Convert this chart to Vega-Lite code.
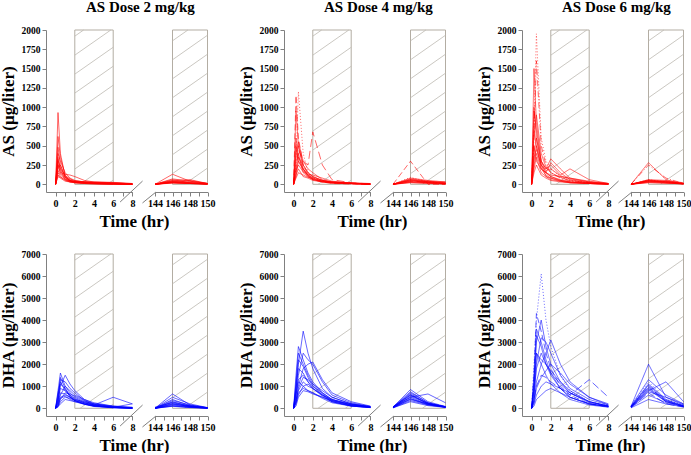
{
"$schema":"https://vega.github.io/schema/vega-lite/v6.json",
"padding":{"left":-1,"top":0,"right":0,"bottom":0},
"config":{"view":{"stroke":null},"font":"Liberation Serif","numberFormat":"d",
"axis":{"labelFont":"Liberation Serif","labelFontWeight":"bold","labelFontSize":10,"labelColor":"#000","titleFont":"Liberation Serif","titleFontWeight":"bold","titleFontSize":17,"titleColor":"#000","domainColor":"#808080","tickColor":"#808080","tickSize":4,"labelPadding":2,"grid":false,"labelFlush":false,"labelOverlap":false,"tickCount":20},
"axisY":{"labelFontSize":9.5,"titlePadding":4},
"title":{"font":"Liberation Serif","fontWeight":"bold","fontSize":15,"color":"#000"}},
"datasets":{
"rectL":[{"t":2,"t2":6,"f":0,"f2":1}],
"rectR":[{"t":146,"t2":150,"f":0,"f2":1}],
"hatchL":[{"t":2,"f":0.96,"t2":2.92,"f2":1},{"t":2,"f":0.837,"t2":5.75,"f2":1},{"t":2,"f":0.714,"t2":6,"f2":0.888},{"t":2,"f":0.591,"t2":6,"f2":0.765},{"t":2,"f":0.468,"t2":6,"f2":0.642},{"t":2,"f":0.345,"t2":6,"f2":0.519},{"t":2,"f":0.222,"t2":6,"f2":0.396},{"t":2,"f":0.099,"t2":6,"f2":0.273},{"t":2.55,"f":0,"t2":6,"f2":0.15},{"t":5.38,"f":0,"t2":6,"f2":0.027}],
"hatchR":[{"t":146,"f":0.93,"t2":147.76,"f2":1},{"t":146,"f":0.807,"t2":150,"f2":0.966},{"t":146,"f":0.684,"t2":150,"f2":0.843},{"t":146,"f":0.561,"t2":150,"f2":0.72},{"t":146,"f":0.438,"t2":150,"f2":0.597},{"t":146,"f":0.315,"t2":150,"f2":0.474},{"t":146,"f":0.192,"t2":150,"f2":0.351},{"t":146,"f":0.069,"t2":150,"f2":0.228},{"t":147.36,"f":0,"t2":150,"f2":0.105}],
"brkL":[{"t":6.72,"t2":9.06,"f":-0.115,"f2":0.021}],
"brkR":[{"t":142.57,"t2":144.11,"f":-0.121,"f2":-0.05}],
"sp":[{"k":0}],
"AS2":[
{"s":1,"t":0,"v":0},{"s":1,"t":0.25,"v":930},{"s":1,"t":0.5,"v":400},{"s":1,"t":1,"v":100},{"s":1,"t":1.5,"v":50},{"s":1,"t":2,"v":30},{"s":1,"t":3,"v":15},{"s":1,"t":4,"v":10},{"s":1,"t":6,"v":5},{"s":1,"t":8,"v":0},{"s":1,"t":144,"v":0},{"s":1,"t":146,"v":30},{"s":1,"t":148,"v":15},{"s":1,"t":150,"v":5},
{"s":2,"t":0,"v":0},{"s":2,"t":0.25,"v":620},{"s":2,"t":0.5,"v":350},{"s":2,"t":1,"v":120},{"s":2,"t":1.5,"v":60},{"s":2,"t":2,"v":40},{"s":2,"t":3,"v":20},{"s":2,"t":4,"v":10},{"s":2,"t":6,"v":5},{"s":2,"t":8,"v":0},{"s":2,"t":144,"v":0},{"s":2,"t":146,"v":60},{"s":2,"t":148,"v":20},{"s":2,"t":150,"v":5},
{"s":3,"t":0,"v":0},{"s":3,"t":0.25,"v":480},{"s":3,"t":0.5,"v":250},{"s":3,"t":1,"v":90},{"s":3,"t":1.5,"v":45},{"s":3,"t":2,"v":25},{"s":3,"t":3,"v":15},{"s":3,"t":4,"v":10},{"s":3,"t":6,"v":5},{"s":3,"t":8,"v":0},{"s":3,"t":144,"v":0},{"s":3,"t":146,"v":25},{"s":3,"t":148,"v":10},{"s":3,"t":150,"v":5},
{"s":4,"t":0,"v":0},{"s":4,"t":0.25,"v":400},{"s":4,"t":0.5,"v":300},{"s":4,"t":1,"v":150},{"s":4,"t":1.5,"v":80},{"s":4,"t":2,"v":50},{"s":4,"t":3,"v":30},{"s":4,"t":4,"v":20},{"s":4,"t":6,"v":10},{"s":4,"t":8,"v":0},{"s":4,"t":144,"v":0},{"s":4,"t":146,"v":130},{"s":4,"t":148,"v":40},{"s":4,"t":150,"v":10},
{"s":5,"t":0,"v":0},{"s":5,"t":0.25,"v":350},{"s":5,"t":0.5,"v":200},{"s":5,"t":1,"v":80},{"s":5,"t":1.5,"v":40},{"s":5,"t":2,"v":30},{"s":5,"t":3,"v":20},{"s":5,"t":4,"v":15},{"s":5,"t":6,"v":10},{"s":5,"t":8,"v":5},{"s":5,"t":144,"v":0},{"s":5,"t":146,"v":50},{"s":5,"t":148,"v":60},{"s":5,"t":150,"v":10},
{"s":6,"t":0,"v":0},{"s":6,"t":0.25,"v":300},{"s":6,"t":0.5,"v":180},{"s":6,"t":1,"v":60},{"s":6,"t":1.5,"v":30},{"s":6,"t":2,"v":20},{"s":6,"t":3,"v":10},{"s":6,"t":4,"v":5},{"s":6,"t":6,"v":0},{"s":6,"t":8,"v":0},{"s":6,"t":144,"v":0},{"s":6,"t":146,"v":40},{"s":6,"t":148,"v":20},{"s":6,"t":150,"v":0},
{"s":7,"t":0,"v":0},{"s":7,"t":0.25,"v":250},{"s":7,"t":0.5,"v":150},{"s":7,"t":1,"v":130},{"s":7,"t":1.5,"v":120},{"s":7,"t":2,"v":100},{"s":7,"t":3,"v":50},{"s":7,"t":4,"v":30},{"s":7,"t":6,"v":20},{"s":7,"t":8,"v":5},{"s":7,"t":144,"v":0},{"s":7,"t":146,"v":20},{"s":7,"t":148,"v":10},{"s":7,"t":150,"v":5},
{"s":8,"t":0,"v":0},{"s":8,"t":0.25,"v":200},{"s":8,"t":0.5,"v":250},{"s":8,"t":1,"v":100},{"s":8,"t":1.5,"v":50},{"s":8,"t":2,"v":30},{"s":8,"t":3,"v":20},{"s":8,"t":4,"v":20},{"s":8,"t":6,"v":10},{"s":8,"t":8,"v":0},{"s":8,"t":144,"v":0},{"s":8,"t":146,"v":35},{"s":8,"t":148,"v":50},{"s":8,"t":150,"v":10},
{"s":9,"t":0,"v":0},{"s":9,"t":0.25,"v":180},{"s":9,"t":0.5,"v":120},{"s":9,"t":1,"v":70},{"s":9,"t":1.5,"v":40},{"s":9,"t":2,"v":30},{"s":9,"t":3,"v":25},{"s":9,"t":4,"v":20},{"s":9,"t":6,"v":15},{"s":9,"t":8,"v":10},{"s":9,"t":144,"v":0},{"s":9,"t":146,"v":15},{"s":9,"t":148,"v":10},{"s":9,"t":150,"v":5},
{"s":10,"t":0,"v":0},{"s":10,"t":0.25,"v":150},{"s":10,"t":0.5,"v":100},{"s":10,"t":1,"v":50},{"s":10,"t":1.5,"v":30},{"s":10,"t":2,"v":20},{"s":10,"t":3,"v":15},{"s":10,"t":4,"v":10},{"s":10,"t":6,"v":5},{"s":10,"t":8,"v":0},{"s":10,"t":144,"v":0},{"s":10,"t":146,"v":25},{"s":10,"t":148,"v":15},{"s":10,"t":150,"v":5},
{"s":11,"t":0,"v":0},{"s":11,"t":0.25,"v":120},{"s":11,"t":0.5,"v":90},{"s":11,"t":1,"v":60},{"s":11,"t":1.5,"v":40},{"s":11,"t":2,"v":35},{"s":11,"t":3,"v":30},{"s":11,"t":4,"v":25},{"s":11,"t":6,"v":20},{"s":11,"t":8,"v":5},{"s":11,"t":144,"v":0},{"s":11,"t":146,"v":45},{"s":11,"t":148,"v":30},{"s":11,"t":150,"v":10},
{"s":12,"t":0,"v":0},{"s":12,"t":0.25,"v":100},{"s":12,"t":0.5,"v":80},{"s":12,"t":1,"v":40},{"s":12,"t":1.5,"v":30},{"s":12,"t":2,"v":20},{"s":12,"t":3,"v":10},{"s":12,"t":4,"v":5},{"s":12,"t":6,"v":0},{"s":12,"t":8,"v":0},{"s":12,"t":144,"v":0},{"s":12,"t":146,"v":20},{"s":12,"t":148,"v":10},{"s":12,"t":150,"v":0},
{"s":13,"t":0,"v":0},{"s":13,"t":0.25,"v":260},{"s":13,"t":0.5,"v":140},{"s":13,"t":1,"v":90},{"s":13,"t":1.5,"v":50},{"s":13,"t":2,"v":40},{"s":13,"t":3,"v":35},{"s":13,"t":4,"v":30},{"s":13,"t":6,"v":25},{"s":13,"t":8,"v":10},{"s":13,"t":144,"v":0},{"s":13,"t":146,"v":70},{"s":13,"t":148,"v":40},{"s":13,"t":150,"v":10},
{"s":14,"t":0,"v":0},{"s":14,"t":0.25,"v":320},{"s":14,"t":0.5,"v":210},{"s":14,"t":1,"v":110},{"s":14,"t":1.5,"v":70},{"s":14,"t":2,"v":45},{"s":14,"t":3,"v":30},{"s":14,"t":4,"v":20},{"s":14,"t":6,"v":10},{"s":14,"t":8,"v":0},{"s":14,"t":144,"v":0},{"s":14,"t":146,"v":30},{"s":14,"t":148,"v":20},{"s":14,"t":150,"v":5}
],
"AS4":[
{"s":1,"t":0,"v":0},{"s":1,"t":0.25,"v":950},{"s":1,"t":0.5,"v":500},{"s":1,"t":1,"v":200},{"s":1,"t":1.5,"v":100},{"s":1,"t":2,"v":60},{"s":1,"t":3,"v":30},{"s":1,"t":4,"v":15},{"s":1,"t":6,"v":5},{"s":1,"t":8,"v":0},{"s":1,"t":144,"v":0},{"s":1,"t":146,"v":50},{"s":1,"t":148,"v":20},{"s":1,"t":150,"v":5},
{"s":2,"t":0,"v":0},{"s":2,"t":0.25,"v":1150},{"s":2,"t":0.5,"v":600},{"s":2,"t":1,"v":250},{"s":2,"t":1.5,"v":120},{"s":2,"t":2,"v":70},{"s":2,"t":3,"v":30},{"s":2,"t":4,"v":10},{"s":2,"t":6,"v":5},{"s":2,"t":8,"v":0},{"s":2,"t":144,"v":0},{"s":2,"t":146,"v":300},{"s":2,"t":148,"v":0},{"s":2,"t":150,"v":0},
{"s":3,"t":0,"v":0},{"s":3,"t":0.25,"v":300},{"s":3,"t":0.5,"v":1200},{"s":3,"t":1,"v":400},{"s":3,"t":1.5,"v":150},{"s":3,"t":2,"v":80},{"s":3,"t":3,"v":40},{"s":3,"t":4,"v":20},{"s":3,"t":6,"v":10},{"s":3,"t":8,"v":0},{"s":3,"t":144,"v":0},{"s":3,"t":146,"v":90},{"s":3,"t":148,"v":30},{"s":3,"t":150,"v":10},
{"s":4,"t":0,"v":0},{"s":4,"t":0.25,"v":400},{"s":4,"t":0.5,"v":550},{"s":4,"t":1,"v":300},{"s":4,"t":1.5,"v":200},{"s":4,"t":2,"v":150},{"s":4,"t":3,"v":60},{"s":4,"t":4,"v":30},{"s":4,"t":6,"v":10},{"s":4,"t":8,"v":0},{"s":4,"t":144,"v":0},{"s":4,"t":146,"v":70},{"s":4,"t":148,"v":40},{"s":4,"t":150,"v":10},
{"s":5,"t":0,"v":0},{"s":5,"t":0.25,"v":350},{"s":5,"t":0.5,"v":500},{"s":5,"t":1,"v":250},{"s":5,"t":1.5,"v":150},{"s":5,"t":2,"v":100},{"s":5,"t":3,"v":50},{"s":5,"t":4,"v":25},{"s":5,"t":6,"v":10},{"s":5,"t":8,"v":5},{"s":5,"t":144,"v":0},{"s":5,"t":146,"v":60},{"s":5,"t":148,"v":30},{"s":5,"t":150,"v":30},
{"s":6,"t":0,"v":0},{"s":6,"t":0.25,"v":200},{"s":6,"t":0.5,"v":450},{"s":6,"t":1,"v":300},{"s":6,"t":1.5,"v":250},{"s":6,"t":2,"v":680},{"s":6,"t":3,"v":250},{"s":6,"t":4,"v":60},{"s":6,"t":6,"v":20},{"s":6,"t":8,"v":5},{"s":6,"t":144,"v":0},{"s":6,"t":146,"v":40},{"s":6,"t":148,"v":20},{"s":6,"t":150,"v":5},
{"s":7,"t":0,"v":0},{"s":7,"t":0.25,"v":150},{"s":7,"t":0.5,"v":350},{"s":7,"t":1,"v":250},{"s":7,"t":1.5,"v":150},{"s":7,"t":2,"v":100},{"s":7,"t":3,"v":50},{"s":7,"t":4,"v":30},{"s":7,"t":6,"v":15},{"s":7,"t":8,"v":5},{"s":7,"t":144,"v":0},{"s":7,"t":146,"v":80},{"s":7,"t":148,"v":50},{"s":7,"t":150,"v":30},
{"s":8,"t":0,"v":0},{"s":8,"t":0.25,"v":100},{"s":8,"t":0.5,"v":300},{"s":8,"t":1,"v":200},{"s":8,"t":1.5,"v":120},{"s":8,"t":2,"v":80},{"s":8,"t":3,"v":40},{"s":8,"t":4,"v":20},{"s":8,"t":6,"v":10},{"s":8,"t":8,"v":0},{"s":8,"t":144,"v":0},{"s":8,"t":146,"v":30},{"s":8,"t":148,"v":20},{"s":8,"t":150,"v":10},
{"s":9,"t":0,"v":0},{"s":9,"t":0.25,"v":250},{"s":9,"t":0.5,"v":400},{"s":9,"t":1,"v":150},{"s":9,"t":1.5,"v":100},{"s":9,"t":2,"v":60},{"s":9,"t":3,"v":30},{"s":9,"t":4,"v":20},{"s":9,"t":6,"v":10},{"s":9,"t":8,"v":5},{"s":9,"t":144,"v":0},{"s":9,"t":146,"v":45},{"s":9,"t":148,"v":25},{"s":9,"t":150,"v":10},
{"s":10,"t":0,"v":0},{"s":10,"t":0.25,"v":500},{"s":10,"t":0.5,"v":300},{"s":10,"t":1,"v":180},{"s":10,"t":1.5,"v":110},{"s":10,"t":2,"v":70},{"s":10,"t":3,"v":40},{"s":10,"t":4,"v":20},{"s":10,"t":6,"v":10},{"s":10,"t":8,"v":0},{"s":10,"t":144,"v":0},{"s":10,"t":146,"v":60},{"s":10,"t":148,"v":40},{"s":10,"t":150,"v":25},
{"s":11,"t":0,"v":0},{"s":11,"t":0.25,"v":180},{"s":11,"t":0.5,"v":250},{"s":11,"t":1,"v":160},{"s":11,"t":1.5,"v":130},{"s":11,"t":2,"v":120},{"s":11,"t":3,"v":80},{"s":11,"t":4,"v":40},{"s":11,"t":6,"v":15},{"s":11,"t":8,"v":5},{"s":11,"t":144,"v":0},{"s":11,"t":146,"v":35},{"s":11,"t":148,"v":30},{"s":11,"t":150,"v":20},
{"s":12,"t":0,"v":0},{"s":12,"t":0.25,"v":120},{"s":12,"t":0.5,"v":200},{"s":12,"t":1,"v":100},{"s":12,"t":1.5,"v":80},{"s":12,"t":2,"v":50},{"s":12,"t":3,"v":30},{"s":12,"t":4,"v":20},{"s":12,"t":6,"v":10},{"s":12,"t":8,"v":0},{"s":12,"t":144,"v":0},{"s":12,"t":146,"v":25},{"s":12,"t":148,"v":15},{"s":12,"t":150,"v":5},
{"s":13,"t":0,"v":0},{"s":13,"t":0.25,"v":600},{"s":13,"t":0.5,"v":350},{"s":13,"t":1,"v":200},{"s":13,"t":1.5,"v":120},{"s":13,"t":2,"v":90},{"s":13,"t":3,"v":50},{"s":13,"t":4,"v":30},{"s":13,"t":6,"v":15},{"s":13,"t":8,"v":5},{"s":13,"t":144,"v":0},{"s":13,"t":146,"v":55},{"s":13,"t":148,"v":30},{"s":13,"t":150,"v":15},
{"s":14,"t":0,"v":0},{"s":14,"t":0.25,"v":80},{"s":14,"t":0.5,"v":150},{"s":14,"t":1,"v":120},{"s":14,"t":1.5,"v":90},{"s":14,"t":2,"v":70},{"s":14,"t":3,"v":40},{"s":14,"t":4,"v":30},{"s":14,"t":6,"v":20},{"s":14,"t":8,"v":10},{"s":14,"t":144,"v":0},{"s":14,"t":146,"v":20},{"s":14,"t":148,"v":10},{"s":14,"t":150,"v":5}
],
"AS6":[
{"s":1,"t":0,"v":0},{"s":1,"t":0.25,"v":1500},{"s":1,"t":0.5,"v":800},{"s":1,"t":1,"v":300},{"s":1,"t":1.5,"v":150},{"s":1,"t":2,"v":100},{"s":1,"t":3,"v":50},{"s":1,"t":4,"v":30},{"s":1,"t":6,"v":10},{"s":1,"t":8,"v":0},{"s":1,"t":144,"v":0},{"s":1,"t":146,"v":280},{"s":1,"t":148,"v":60},{"s":1,"t":150,"v":0},
{"s":2,"t":0,"v":0},{"s":2,"t":0.25,"v":600},{"s":2,"t":0.5,"v":1600},{"s":2,"t":1,"v":500},{"s":2,"t":1.5,"v":250},{"s":2,"t":2,"v":150},{"s":2,"t":3,"v":80},{"s":2,"t":4,"v":40},{"s":2,"t":6,"v":20},{"s":2,"t":8,"v":5},{"s":2,"t":144,"v":0},{"s":2,"t":146,"v":250},{"s":2,"t":148,"v":80},{"s":2,"t":150,"v":10},
{"s":3,"t":0,"v":0},{"s":3,"t":0.25,"v":800},{"s":3,"t":0.5,"v":1950},{"s":3,"t":1,"v":600},{"s":3,"t":1.5,"v":300},{"s":3,"t":2,"v":200},{"s":3,"t":3,"v":100},{"s":3,"t":4,"v":50},{"s":3,"t":6,"v":20},{"s":3,"t":8,"v":5},{"s":3,"t":144,"v":0},{"s":3,"t":146,"v":60},{"s":3,"t":148,"v":30},{"s":3,"t":150,"v":10},
{"s":4,"t":0,"v":0},{"s":4,"t":0.25,"v":950},{"s":4,"t":0.5,"v":700},{"s":4,"t":1,"v":300},{"s":4,"t":1.5,"v":200},{"s":4,"t":2,"v":330},{"s":4,"t":3,"v":200},{"s":4,"t":4,"v":80},{"s":4,"t":6,"v":30},{"s":4,"t":8,"v":10},{"s":4,"t":144,"v":0},{"s":4,"t":146,"v":50},{"s":4,"t":148,"v":40},{"s":4,"t":150,"v":10},
{"s":5,"t":0,"v":0},{"s":5,"t":0.25,"v":700},{"s":5,"t":0.5,"v":500},{"s":5,"t":1,"v":250},{"s":5,"t":1.5,"v":150},{"s":5,"t":2,"v":280},{"s":5,"t":3,"v":150},{"s":5,"t":4,"v":60},{"s":5,"t":6,"v":20},{"s":5,"t":8,"v":5},{"s":5,"t":144,"v":0},{"s":5,"t":146,"v":40},{"s":5,"t":148,"v":30},{"s":5,"t":150,"v":10},
{"s":6,"t":0,"v":0},{"s":6,"t":0.25,"v":400},{"s":6,"t":0.5,"v":600},{"s":6,"t":1,"v":300},{"s":6,"t":1.5,"v":200},{"s":6,"t":2,"v":250},{"s":6,"t":3,"v":120},{"s":6,"t":4,"v":200},{"s":6,"t":6,"v":60},{"s":6,"t":8,"v":10},{"s":6,"t":144,"v":0},{"s":6,"t":146,"v":30},{"s":6,"t":148,"v":20},{"s":6,"t":150,"v":5},
{"s":7,"t":0,"v":0},{"s":7,"t":0.25,"v":300},{"s":7,"t":0.5,"v":500},{"s":7,"t":1,"v":200},{"s":7,"t":1.5,"v":150},{"s":7,"t":2,"v":100},{"s":7,"t":3,"v":60},{"s":7,"t":4,"v":30},{"s":7,"t":6,"v":20},{"s":7,"t":8,"v":5},{"s":7,"t":144,"v":0},{"s":7,"t":146,"v":60},{"s":7,"t":148,"v":50},{"s":7,"t":150,"v":20},
{"s":8,"t":0,"v":0},{"s":8,"t":0.25,"v":250},{"s":8,"t":0.5,"v":400},{"s":8,"t":1,"v":200},{"s":8,"t":1.5,"v":120},{"s":8,"t":2,"v":80},{"s":8,"t":3,"v":50},{"s":8,"t":4,"v":30},{"s":8,"t":6,"v":10},{"s":8,"t":8,"v":0},{"s":8,"t":144,"v":0},{"s":8,"t":146,"v":45},{"s":8,"t":148,"v":30},{"s":8,"t":150,"v":10},
{"s":9,"t":0,"v":0},{"s":9,"t":0.25,"v":1000},{"s":9,"t":0.5,"v":600},{"s":9,"t":1,"v":250},{"s":9,"t":1.5,"v":100},{"s":9,"t":2,"v":80},{"s":9,"t":3,"v":40},{"s":9,"t":4,"v":20},{"s":9,"t":6,"v":10},{"s":9,"t":8,"v":0},{"s":9,"t":144,"v":0},{"s":9,"t":146,"v":35},{"s":9,"t":148,"v":40},{"s":9,"t":150,"v":10},
{"s":10,"t":0,"v":0},{"s":10,"t":0.25,"v":200},{"s":10,"t":0.5,"v":350},{"s":10,"t":1,"v":150},{"s":10,"t":1.5,"v":100},{"s":10,"t":2,"v":60},{"s":10,"t":3,"v":40},{"s":10,"t":4,"v":20},{"s":10,"t":6,"v":10},{"s":10,"t":8,"v":5},{"s":10,"t":144,"v":0},{"s":10,"t":146,"v":25},{"s":10,"t":148,"v":15},{"s":10,"t":150,"v":5},
{"s":11,"t":0,"v":0},{"s":11,"t":0.25,"v":500},{"s":11,"t":0.5,"v":300},{"s":11,"t":1,"v":200},{"s":11,"t":1.5,"v":150},{"s":11,"t":2,"v":120},{"s":11,"t":3,"v":100},{"s":11,"t":4,"v":80},{"s":11,"t":6,"v":40},{"s":11,"t":8,"v":10},{"s":11,"t":144,"v":0},{"s":11,"t":146,"v":50},{"s":11,"t":148,"v":25},{"s":11,"t":150,"v":5},
{"s":12,"t":0,"v":0},{"s":12,"t":0.25,"v":150},{"s":12,"t":0.5,"v":250},{"s":12,"t":1,"v":120},{"s":12,"t":1.5,"v":80},{"s":12,"t":2,"v":50},{"s":12,"t":3,"v":30},{"s":12,"t":4,"v":20},{"s":12,"t":6,"v":10},{"s":12,"t":8,"v":0},{"s":12,"t":144,"v":0},{"s":12,"t":146,"v":20},{"s":12,"t":148,"v":15},{"s":12,"t":150,"v":5},
{"s":13,"t":0,"v":0},{"s":13,"t":0.25,"v":650},{"s":13,"t":0.5,"v":900},{"s":13,"t":1,"v":400},{"s":13,"t":1.5,"v":220},{"s":13,"t":2,"v":150},{"s":13,"t":3,"v":90},{"s":13,"t":4,"v":50},{"s":13,"t":6,"v":20},{"s":13,"t":8,"v":5},{"s":13,"t":144,"v":0},{"s":13,"t":146,"v":55},{"s":13,"t":148,"v":35},{"s":13,"t":150,"v":10},
{"s":14,"t":0,"v":0},{"s":14,"t":0.25,"v":350},{"s":14,"t":0.5,"v":450},{"s":14,"t":1,"v":250},{"s":14,"t":1.5,"v":180},{"s":14,"t":2,"v":200},{"s":14,"t":3,"v":110},{"s":14,"t":4,"v":70},{"s":14,"t":6,"v":30},{"s":14,"t":8,"v":10},{"s":14,"t":144,"v":0},{"s":14,"t":146,"v":40},{"s":14,"t":148,"v":20},{"s":14,"t":150,"v":10}
],
"DHA2":[
{"s":1,"t":0,"v":0},{"s":1,"t":0.25,"v":800},{"s":1,"t":0.5,"v":1600},{"s":1,"t":1,"v":1000},{"s":1,"t":1.5,"v":700},{"s":1,"t":2,"v":500},{"s":1,"t":3,"v":300},{"s":1,"t":4,"v":150},{"s":1,"t":6,"v":50},{"s":1,"t":8,"v":20},{"s":1,"t":144,"v":0},{"s":1,"t":146,"v":650},{"s":1,"t":148,"v":150},{"s":1,"t":150,"v":20},
{"s":2,"t":0,"v":0},{"s":2,"t":0.25,"v":300},{"s":2,"t":0.5,"v":1000},{"s":2,"t":1,"v":1500},{"s":2,"t":1.5,"v":1100},{"s":2,"t":2,"v":800},{"s":2,"t":3,"v":400},{"s":2,"t":4,"v":200},{"s":2,"t":6,"v":60},{"s":2,"t":8,"v":10},{"s":2,"t":144,"v":0},{"s":2,"t":146,"v":400},{"s":2,"t":148,"v":120},{"s":2,"t":150,"v":20},
{"s":3,"t":0,"v":0},{"s":3,"t":0.25,"v":500},{"s":3,"t":0.5,"v":1300},{"s":3,"t":1,"v":1200},{"s":3,"t":1.5,"v":900},{"s":3,"t":2,"v":700},{"s":3,"t":3,"v":350},{"s":3,"t":4,"v":150},{"s":3,"t":6,"v":40},{"s":3,"t":8,"v":10},{"s":3,"t":144,"v":0},{"s":3,"t":146,"v":300},{"s":3,"t":148,"v":100},{"s":3,"t":150,"v":10},
{"s":4,"t":0,"v":0},{"s":4,"t":0.25,"v":200},{"s":4,"t":0.5,"v":600},{"s":4,"t":1,"v":1000},{"s":4,"t":1.5,"v":800},{"s":4,"t":2,"v":600},{"s":4,"t":3,"v":400},{"s":4,"t":4,"v":250},{"s":4,"t":6,"v":100},{"s":4,"t":8,"v":30},{"s":4,"t":144,"v":0},{"s":4,"t":146,"v":350},{"s":4,"t":148,"v":150},{"s":4,"t":150,"v":30},
{"s":5,"t":0,"v":0},{"s":5,"t":0.25,"v":400},{"s":5,"t":0.5,"v":900},{"s":5,"t":1,"v":800},{"s":5,"t":1.5,"v":600},{"s":5,"t":2,"v":400},{"s":5,"t":3,"v":250},{"s":5,"t":4,"v":150},{"s":5,"t":6,"v":500},{"s":5,"t":8,"v":200},{"s":5,"t":144,"v":50},{"s":5,"t":146,"v":250},{"s":5,"t":148,"v":100},{"s":5,"t":150,"v":20},
{"s":6,"t":0,"v":0},{"s":6,"t":0.25,"v":100},{"s":6,"t":0.5,"v":400},{"s":6,"t":1,"v":700},{"s":6,"t":1.5,"v":650},{"s":6,"t":2,"v":550},{"s":6,"t":3,"v":350},{"s":6,"t":4,"v":200},{"s":6,"t":6,"v":80},{"s":6,"t":8,"v":20},{"s":6,"t":144,"v":0},{"s":6,"t":146,"v":200},{"s":6,"t":148,"v":80},{"s":6,"t":150,"v":10},
{"s":7,"t":0,"v":0},{"s":7,"t":0.25,"v":600},{"s":7,"t":0.5,"v":1100},{"s":7,"t":1,"v":900},{"s":7,"t":1.5,"v":500},{"s":7,"t":2,"v":350},{"s":7,"t":3,"v":200},{"s":7,"t":4,"v":100},{"s":7,"t":6,"v":30},{"s":7,"t":8,"v":0},{"s":7,"t":144,"v":0},{"s":7,"t":146,"v":150},{"s":7,"t":148,"v":60},{"s":7,"t":150,"v":10},
{"s":8,"t":0,"v":0},{"s":8,"t":0.25,"v":150},{"s":8,"t":0.5,"v":500},{"s":8,"t":1,"v":600},{"s":8,"t":1.5,"v":500},{"s":8,"t":2,"v":400},{"s":8,"t":3,"v":300},{"s":8,"t":4,"v":200},{"s":8,"t":6,"v":100},{"s":8,"t":8,"v":50},{"s":8,"t":144,"v":0},{"s":8,"t":146,"v":180},{"s":8,"t":148,"v":90},{"s":8,"t":150,"v":30},
{"s":9,"t":0,"v":0},{"s":9,"t":0.25,"v":50},{"s":9,"t":0.5,"v":300},{"s":9,"t":1,"v":500},{"s":9,"t":1.5,"v":450},{"s":9,"t":2,"v":350},{"s":9,"t":3,"v":250},{"s":9,"t":4,"v":150},{"s":9,"t":6,"v":60},{"s":9,"t":8,"v":20},{"s":9,"t":144,"v":0},{"s":9,"t":146,"v":120},{"s":9,"t":148,"v":50},{"s":9,"t":150,"v":10},
{"s":10,"t":0,"v":0},{"s":10,"t":0.25,"v":250},{"s":10,"t":0.5,"v":700},{"s":10,"t":1,"v":650},{"s":10,"t":1.5,"v":500},{"s":10,"t":2,"v":350},{"s":10,"t":3,"v":200},{"s":10,"t":4,"v":100},{"s":10,"t":6,"v":40},{"s":10,"t":8,"v":10},{"s":10,"t":144,"v":0},{"s":10,"t":146,"v":220},{"s":10,"t":148,"v":70},{"s":10,"t":150,"v":0},
{"s":11,"t":0,"v":0},{"s":11,"t":0.25,"v":80},{"s":11,"t":0.5,"v":200},{"s":11,"t":1,"v":400},{"s":11,"t":1.5,"v":350},{"s":11,"t":2,"v":300},{"s":11,"t":3,"v":200},{"s":11,"t":4,"v":120},{"s":11,"t":6,"v":50},{"s":11,"t":8,"v":200},{"s":11,"t":144,"v":0},{"s":11,"t":146,"v":100},{"s":11,"t":148,"v":40},{"s":11,"t":150,"v":10},
{"s":12,"t":0,"v":0},{"s":12,"t":0.25,"v":350},{"s":12,"t":0.5,"v":1400},{"s":12,"t":1,"v":900},{"s":12,"t":1.5,"v":600},{"s":12,"t":2,"v":450},{"s":12,"t":3,"v":250},{"s":12,"t":4,"v":120},{"s":12,"t":6,"v":40},{"s":12,"t":8,"v":10},{"s":12,"t":144,"v":0},{"s":12,"t":146,"v":500},{"s":12,"t":148,"v":200},{"s":12,"t":150,"v":30},
{"s":13,"t":0,"v":0},{"s":13,"t":0.25,"v":120},{"s":13,"t":0.5,"v":450},{"s":13,"t":1,"v":550},{"s":13,"t":1.5,"v":400},{"s":13,"t":2,"v":300},{"s":13,"t":3,"v":180},{"s":13,"t":4,"v":100},{"s":13,"t":6,"v":30},{"s":13,"t":8,"v":0},{"s":13,"t":144,"v":0},{"s":13,"t":146,"v":90},{"s":13,"t":148,"v":30},{"s":13,"t":150,"v":0},
{"s":14,"t":0,"v":0},{"s":14,"t":0.25,"v":700},{"s":14,"t":0.5,"v":1200},{"s":14,"t":1,"v":800},{"s":14,"t":1.5,"v":550},{"s":14,"t":2,"v":350},{"s":14,"t":3,"v":180},{"s":14,"t":4,"v":80},{"s":14,"t":6,"v":20},{"s":14,"t":8,"v":0},{"s":14,"t":144,"v":0},{"s":14,"t":146,"v":280},{"s":14,"t":148,"v":100},{"s":14,"t":150,"v":20}
],
"DHA4":[
{"s":1,"t":0,"v":0},{"s":1,"t":0.25,"v":800},{"s":1,"t":0.5,"v":2000},{"s":1,"t":1,"v":3500},{"s":1,"t":1.5,"v":2500},{"s":1,"t":2,"v":1800},{"s":1,"t":3,"v":900},{"s":1,"t":4,"v":500},{"s":1,"t":6,"v":200},{"s":1,"t":8,"v":50},{"s":1,"t":144,"v":50},{"s":1,"t":146,"v":850},{"s":1,"t":148,"v":300},{"s":1,"t":150,"v":80},
{"s":2,"t":0,"v":0},{"s":2,"t":0.25,"v":1500},{"s":2,"t":0.5,"v":2800},{"s":2,"t":1,"v":2200},{"s":2,"t":1.5,"v":1600},{"s":2,"t":2,"v":1200},{"s":2,"t":3,"v":700},{"s":2,"t":4,"v":400},{"s":2,"t":6,"v":150},{"s":2,"t":8,"v":50},{"s":2,"t":144,"v":30},{"s":2,"t":146,"v":700},{"s":2,"t":148,"v":250},{"s":2,"t":150,"v":60},
{"s":3,"t":0,"v":0},{"s":3,"t":0.25,"v":500},{"s":3,"t":0.5,"v":1500},{"s":3,"t":1,"v":2500},{"s":3,"t":1.5,"v":2200},{"s":3,"t":2,"v":2000},{"s":3,"t":3,"v":1200},{"s":3,"t":4,"v":600},{"s":3,"t":6,"v":250},{"s":3,"t":8,"v":80},{"s":3,"t":144,"v":50},{"s":3,"t":146,"v":600},{"s":3,"t":148,"v":200},{"s":3,"t":150,"v":50},
{"s":4,"t":0,"v":0},{"s":4,"t":0.25,"v":300},{"s":4,"t":0.5,"v":1000},{"s":4,"t":1,"v":1800},{"s":4,"t":1.5,"v":2000},{"s":4,"t":2,"v":2100},{"s":4,"t":3,"v":1300},{"s":4,"t":4,"v":700},{"s":4,"t":6,"v":300},{"s":4,"t":8,"v":100},{"s":4,"t":144,"v":60},{"s":4,"t":146,"v":500},{"s":4,"t":148,"v":650},{"s":4,"t":150,"v":250},
{"s":5,"t":0,"v":0},{"s":5,"t":0.25,"v":700},{"s":5,"t":0.5,"v":1300},{"s":5,"t":1,"v":1500},{"s":5,"t":1.5,"v":1200},{"s":5,"t":2,"v":1000},{"s":5,"t":3,"v":700},{"s":5,"t":4,"v":400},{"s":5,"t":6,"v":150},{"s":5,"t":8,"v":50},{"s":5,"t":144,"v":40},{"s":5,"t":146,"v":450},{"s":5,"t":148,"v":150},{"s":5,"t":150,"v":40},
{"s":6,"t":0,"v":0},{"s":6,"t":0.25,"v":1000},{"s":6,"t":0.5,"v":2200},{"s":6,"t":1,"v":1900},{"s":6,"t":1.5,"v":1400},{"s":6,"t":2,"v":1000},{"s":6,"t":3,"v":600},{"s":6,"t":4,"v":300},{"s":6,"t":6,"v":100},{"s":6,"t":8,"v":30},{"s":6,"t":144,"v":50},{"s":6,"t":146,"v":650},{"s":6,"t":148,"v":200},{"s":6,"t":150,"v":50},
{"s":7,"t":0,"v":0},{"s":7,"t":0.25,"v":400},{"s":7,"t":0.5,"v":800},{"s":7,"t":1,"v":1200},{"s":7,"t":1.5,"v":1000},{"s":7,"t":2,"v":900},{"s":7,"t":3,"v":600},{"s":7,"t":4,"v":350},{"s":7,"t":6,"v":150},{"s":7,"t":8,"v":60},{"s":7,"t":144,"v":30},{"s":7,"t":146,"v":400},{"s":7,"t":148,"v":180},{"s":7,"t":150,"v":60},
{"s":8,"t":0,"v":0},{"s":8,"t":0.25,"v":200},{"s":8,"t":0.5,"v":600},{"s":8,"t":1,"v":1000},{"s":8,"t":1.5,"v":1100},{"s":8,"t":2,"v":900},{"s":8,"t":3,"v":600},{"s":8,"t":4,"v":400},{"s":8,"t":6,"v":200},{"s":8,"t":8,"v":80},{"s":8,"t":144,"v":20},{"s":8,"t":146,"v":350},{"s":8,"t":148,"v":150},{"s":8,"t":150,"v":50},
{"s":9,"t":0,"v":0},{"s":9,"t":0.25,"v":600},{"s":9,"t":0.5,"v":1200},{"s":9,"t":1,"v":1000},{"s":9,"t":1.5,"v":800},{"s":9,"t":2,"v":700},{"s":9,"t":3,"v":500},{"s":9,"t":4,"v":300},{"s":9,"t":6,"v":120},{"s":9,"t":8,"v":40},{"s":9,"t":144,"v":40},{"s":9,"t":146,"v":550},{"s":9,"t":148,"v":220},{"s":9,"t":150,"v":70},
{"s":10,"t":0,"v":0},{"s":10,"t":0.25,"v":300},{"s":10,"t":0.5,"v":900},{"s":10,"t":1,"v":1400},{"s":10,"t":1.5,"v":1300},{"s":10,"t":2,"v":1100},{"s":10,"t":3,"v":800},{"s":10,"t":4,"v":500},{"s":10,"t":6,"v":200},{"s":10,"t":8,"v":60},{"s":10,"t":144,"v":60},{"s":10,"t":146,"v":750},{"s":10,"t":148,"v":250},{"s":10,"t":150,"v":60},
{"s":11,"t":0,"v":0},{"s":11,"t":0.25,"v":250},{"s":11,"t":0.5,"v":700},{"s":11,"t":1,"v":900},{"s":11,"t":1.5,"v":800},{"s":11,"t":2,"v":700},{"s":11,"t":3,"v":450},{"s":11,"t":4,"v":250},{"s":11,"t":6,"v":100},{"s":11,"t":8,"v":30},{"s":11,"t":144,"v":20},{"s":11,"t":146,"v":300},{"s":11,"t":148,"v":120},{"s":11,"t":150,"v":40},
{"s":12,"t":0,"v":0},{"s":12,"t":0.25,"v":900},{"s":12,"t":0.5,"v":1800},{"s":12,"t":1,"v":1600},{"s":12,"t":1.5,"v":1200},{"s":12,"t":2,"v":900},{"s":12,"t":3,"v":550},{"s":12,"t":4,"v":300},{"s":12,"t":6,"v":100},{"s":12,"t":8,"v":40},{"s":12,"t":144,"v":50},{"s":12,"t":146,"v":500},{"s":12,"t":148,"v":180},{"s":12,"t":150,"v":50},
{"s":13,"t":0,"v":0},{"s":13,"t":0.25,"v":100},{"s":13,"t":0.5,"v":500},{"s":13,"t":1,"v":800},{"s":13,"t":1.5,"v":750},{"s":13,"t":2,"v":650},{"s":13,"t":3,"v":500},{"s":13,"t":4,"v":350},{"s":13,"t":6,"v":180},{"s":13,"t":8,"v":70},{"s":13,"t":144,"v":30},{"s":13,"t":146,"v":420},{"s":13,"t":148,"v":200},{"s":13,"t":150,"v":80},
{"s":14,"t":0,"v":0},{"s":14,"t":0.25,"v":1200},{"s":14,"t":0.5,"v":2500},{"s":14,"t":1,"v":2000},{"s":14,"t":1.5,"v":1500},{"s":14,"t":2,"v":1100},{"s":14,"t":3,"v":650},{"s":14,"t":4,"v":350},{"s":14,"t":6,"v":120},{"s":14,"t":8,"v":40},{"s":14,"t":144,"v":70},{"s":14,"t":146,"v":600},{"s":14,"t":148,"v":230},{"s":14,"t":150,"v":70}
],
"DHA6":[
{"s":1,"t":0,"v":0},{"s":1,"t":0.25,"v":2000},{"s":1,"t":0.5,"v":4000},{"s":1,"t":1,"v":6100},{"s":1,"t":1.5,"v":4000},{"s":1,"t":2,"v":2800},{"s":1,"t":3,"v":1500},{"s":1,"t":4,"v":800},{"s":1,"t":6,"v":300},{"s":1,"t":8,"v":100},{"s":1,"t":144,"v":100},{"s":1,"t":146,"v":1200},{"s":1,"t":148,"v":400},{"s":1,"t":150,"v":150},
{"s":2,"t":0,"v":0},{"s":2,"t":0.25,"v":1500},{"s":2,"t":0.5,"v":4300},{"s":2,"t":1,"v":3500},{"s":2,"t":1.5,"v":2500},{"s":2,"t":2,"v":1800},{"s":2,"t":3,"v":1000},{"s":2,"t":4,"v":600},{"s":2,"t":6,"v":200},{"s":2,"t":8,"v":80},{"s":2,"t":144,"v":50},{"s":2,"t":146,"v":1000},{"s":2,"t":148,"v":300},{"s":2,"t":150,"v":100},
{"s":3,"t":0,"v":0},{"s":3,"t":0.25,"v":1000},{"s":3,"t":0.5,"v":3000},{"s":3,"t":1,"v":4000},{"s":3,"t":1.5,"v":2800},{"s":3,"t":2,"v":2000},{"s":3,"t":3,"v":1200},{"s":3,"t":4,"v":700},{"s":3,"t":6,"v":250},{"s":3,"t":8,"v":100},{"s":3,"t":144,"v":80},{"s":3,"t":146,"v":2000},{"s":3,"t":148,"v":500},{"s":3,"t":150,"v":150},
{"s":4,"t":0,"v":0},{"s":4,"t":0.25,"v":500},{"s":4,"t":0.5,"v":2000},{"s":4,"t":1,"v":3200},{"s":4,"t":1.5,"v":3000},{"s":4,"t":2,"v":2500},{"s":4,"t":3,"v":1500},{"s":4,"t":4,"v":900},{"s":4,"t":6,"v":400},{"s":4,"t":8,"v":150},{"s":4,"t":144,"v":100},{"s":4,"t":146,"v":1300},{"s":4,"t":148,"v":600},{"s":4,"t":150,"v":200},
{"s":5,"t":0,"v":0},{"s":5,"t":0.25,"v":800},{"s":5,"t":0.5,"v":2500},{"s":5,"t":1,"v":2200},{"s":5,"t":1.5,"v":2000},{"s":5,"t":2,"v":1700},{"s":5,"t":3,"v":1200},{"s":5,"t":4,"v":800},{"s":5,"t":6,"v":300},{"s":5,"t":8,"v":100},{"s":5,"t":144,"v":60},{"s":5,"t":146,"v":900},{"s":5,"t":148,"v":300},{"s":5,"t":150,"v":80},
{"s":6,"t":0,"v":0},{"s":6,"t":0.25,"v":300},{"s":6,"t":0.5,"v":1200},{"s":6,"t":1,"v":2000},{"s":6,"t":1.5,"v":2500},{"s":6,"t":2,"v":3100},{"s":6,"t":3,"v":2000},{"s":6,"t":4,"v":1200},{"s":6,"t":6,"v":500},{"s":6,"t":8,"v":200},{"s":6,"t":144,"v":50},{"s":6,"t":146,"v":800},{"s":6,"t":148,"v":1200},{"s":6,"t":150,"v":300},
{"s":7,"t":0,"v":0},{"s":7,"t":0.25,"v":400},{"s":7,"t":0.5,"v":1000},{"s":7,"t":1,"v":1500},{"s":7,"t":1.5,"v":1400},{"s":7,"t":2,"v":1200},{"s":7,"t":3,"v":900},{"s":7,"t":4,"v":600},{"s":7,"t":6,"v":1300},{"s":7,"t":8,"v":500},{"s":7,"t":144,"v":40},{"s":7,"t":146,"v":700},{"s":7,"t":148,"v":200},{"s":7,"t":150,"v":60},
{"s":8,"t":0,"v":0},{"s":8,"t":0.25,"v":1200},{"s":8,"t":0.5,"v":3300},{"s":8,"t":1,"v":2800},{"s":8,"t":1.5,"v":2000},{"s":8,"t":2,"v":1500},{"s":8,"t":3,"v":900},{"s":8,"t":4,"v":500},{"s":8,"t":6,"v":200},{"s":8,"t":8,"v":60},{"s":8,"t":144,"v":70},{"s":8,"t":146,"v":1100},{"s":8,"t":148,"v":400},{"s":8,"t":150,"v":120},
{"s":9,"t":0,"v":0},{"s":9,"t":0.25,"v":200},{"s":9,"t":0.5,"v":600},{"s":9,"t":1,"v":1000},{"s":9,"t":1.5,"v":1200},{"s":9,"t":2,"v":1100},{"s":9,"t":3,"v":900},{"s":9,"t":4,"v":700},{"s":9,"t":6,"v":300},{"s":9,"t":8,"v":100},{"s":9,"t":144,"v":30},{"s":9,"t":146,"v":600},{"s":9,"t":148,"v":250},{"s":9,"t":150,"v":80},
{"s":10,"t":0,"v":0},{"s":10,"t":0.25,"v":600},{"s":10,"t":0.5,"v":1800},{"s":10,"t":1,"v":2500},{"s":10,"t":1.5,"v":2000},{"s":10,"t":2,"v":1600},{"s":10,"t":3,"v":1100},{"s":10,"t":4,"v":700},{"s":10,"t":6,"v":300},{"s":10,"t":8,"v":100},{"s":10,"t":144,"v":90},{"s":10,"t":146,"v":950},{"s":10,"t":148,"v":350},{"s":10,"t":150,"v":100},
{"s":11,"t":0,"v":0},{"s":11,"t":0.25,"v":100},{"s":11,"t":0.5,"v":400},{"s":11,"t":1,"v":600},{"s":11,"t":1.5,"v":800},{"s":11,"t":2,"v":900},{"s":11,"t":3,"v":700},{"s":11,"t":4,"v":500},{"s":11,"t":6,"v":200},{"s":11,"t":8,"v":80},{"s":11,"t":144,"v":20},{"s":11,"t":146,"v":400},{"s":11,"t":148,"v":200},{"s":11,"t":150,"v":60},
{"s":12,"t":0,"v":0},{"s":12,"t":0.25,"v":900},{"s":12,"t":0.5,"v":2500},{"s":12,"t":1,"v":2000},{"s":12,"t":1.5,"v":1500},{"s":12,"t":2,"v":1100},{"s":12,"t":3,"v":700},{"s":12,"t":4,"v":400},{"s":12,"t":6,"v":150},{"s":12,"t":8,"v":50},{"s":12,"t":144,"v":60},{"s":12,"t":146,"v":850},{"s":12,"t":148,"v":300},{"s":12,"t":150,"v":90},
{"s":13,"t":0,"v":0},{"s":13,"t":0.25,"v":1500},{"s":13,"t":0.5,"v":3600},{"s":13,"t":1,"v":3000},{"s":13,"t":1.5,"v":2200},{"s":13,"t":2,"v":1600},{"s":13,"t":3,"v":900},{"s":13,"t":4,"v":500},{"s":13,"t":6,"v":200},{"s":13,"t":8,"v":70},{"s":13,"t":144,"v":80},{"s":13,"t":146,"v":1050},{"s":13,"t":148,"v":350},{"s":13,"t":150,"v":110},
{"s":14,"t":0,"v":0},{"s":14,"t":0.25,"v":300},{"s":14,"t":0.5,"v":900},{"s":14,"t":1,"v":1400},{"s":14,"t":1.5,"v":1700},{"s":14,"t":2,"v":2000},{"s":14,"t":3,"v":1600},{"s":14,"t":4,"v":1100},{"s":14,"t":6,"v":500},{"s":14,"t":8,"v":150},{"s":14,"t":144,"v":50},{"s":14,"t":146,"v":750},{"s":14,"t":148,"v":500},{"s":14,"t":150,"v":200}
]
},
"columns":8,
"spacing":{"row":62,"column":22},
"bounds":"flush",
"concat":[
{"width":86.4,"height":162,"title":{"text":"AS Dose 2 mg/kg","anchor":"start","frame":"group","dx":40,"offset":10},
"layer":[
{"data":{"name":"rectL"},"mark":{"type":"rect","fill":null,"stroke":"#b3ada3","strokeWidth":1},"encoding":{"x":{"field":"t","type":"quantitative","scale":{"domain":[-1,8],"nice":false,"zero":false}},"x2":{"field":"t2"},"y":{"field":"f","type":"quantitative","scale":{"domain":[-0.05,1],"nice":false,"zero":false},"axis":null},"y2":{"field":"f2"}}},
{"data":{"name":"hatchL"},"mark":{"type":"rule","stroke":"#bdb9b1","strokeWidth":0.8},"encoding":{"x":{"field":"t","type":"quantitative"},"x2":{"field":"t2"},"y":{"field":"f","type":"quantitative","scale":{"domain":[-0.05,1],"nice":false,"zero":false},"axis":null},"y2":{"field":"f2"}}},
{"data":{"name":"brkL"},"mark":{"type":"rule","stroke":"#808080","strokeWidth":1},"encoding":{"x":{"field":"t","type":"quantitative"},"x2":{"field":"t2"},"y":{"field":"f","type":"quantitative","scale":{"domain":[-0.05,1],"nice":false,"zero":false},"axis":null},"y2":{"field":"f2"}}},
{"data":{"name":"AS2"},"transform":[{"filter":"datum.t<=8"}],"mark":{"type":"line","color":"#ff0000","strokeWidth":0.6},"encoding":{"x":{"field":"t","type":"quantitative","scale":{"domain":[-1,8],"nice":false,"zero":false},"axis":{"values":[0,1,2,3,4,5,6,7,8],"tickCount":20,"format":"d","labelExpr":"datum.value % 2 == 0 ? datum.label : ''","labelOverlap":false,"title":"Time (hr)","titleX":88,"titlePadding":5}},"y":{"field":"v","type":"quantitative","scale":{"domain":[-100,2000],"nice":false,"zero":false},"axis":{"values":[0,250,500,750,1000,1250,1500,1750,2000],"tickCount":20,"labelOverlap":false,"format":"d","title":"AS (µg/liter)"}},"detail":{"field":"s","type":"nominal"}}}
],"resolve":{"scale":{"y":"independent"}}},
{"width":52.5,"height":162,
"layer":[
{"data":{"name":"rectR"},"mark":{"type":"rect","fill":null,"stroke":"#b3ada3","strokeWidth":1},"encoding":{"x":{"field":"t","type":"quantitative","scale":{"domain":[144,150],"nice":false,"zero":false}},"x2":{"field":"t2"},"y":{"field":"f","type":"quantitative","scale":{"domain":[-0.05,1],"nice":false,"zero":false},"axis":null},"y2":{"field":"f2"}}},
{"data":{"name":"hatchR"},"mark":{"type":"rule","stroke":"#bdb9b1","strokeWidth":0.8},"encoding":{"x":{"field":"t","type":"quantitative"},"x2":{"field":"t2"},"y":{"field":"f","type":"quantitative","scale":{"domain":[-0.05,1],"nice":false,"zero":false},"axis":null},"y2":{"field":"f2"}}},
{"data":{"name":"brkR"},"mark":{"type":"rule","stroke":"#808080","strokeWidth":1},"encoding":{"x":{"field":"t","type":"quantitative"},"x2":{"field":"t2"},"y":{"field":"f","type":"quantitative","scale":{"domain":[-0.05,1],"nice":false,"zero":false},"axis":null},"y2":{"field":"f2"}}},
{"data":{"name":"AS2"},"transform":[{"filter":"datum.t>=144"}],"mark":{"type":"line","color":"#ff0000","strokeWidth":0.6},"encoding":{"x":{"field":"t","type":"quantitative","scale":{"domain":[144,150],"nice":false,"zero":false},"axis":{"values":[144,145,146,147,148,149,150],"tickCount":20,"format":"d","labelExpr":"datum.value % 2 == 0 ? datum.label : ''","labelOverlap":false,"title":null}},"y":{"field":"v","type":"quantitative","scale":{"domain":[-100,2000],"nice":false,"zero":false},"axis":null},"detail":{"field":"s","type":"nominal"}}}
],"resolve":{"scale":{"y":"independent"}}},
{"width":32,"height":162,"data":{"name":"sp"},"mark":{"type":"point","opacity":0},"encoding":{}},
{"width":86.4,"height":162,"title":{"text":"AS Dose 4 mg/kg","anchor":"start","frame":"group","dx":40,"offset":10},
"layer":[
{"data":{"name":"rectL"},"mark":{"type":"rect","fill":null,"stroke":"#b3ada3","strokeWidth":1},"encoding":{"x":{"field":"t","type":"quantitative","scale":{"domain":[-1,8],"nice":false,"zero":false}},"x2":{"field":"t2"},"y":{"field":"f","type":"quantitative","scale":{"domain":[-0.05,1],"nice":false,"zero":false},"axis":null},"y2":{"field":"f2"}}},
{"data":{"name":"hatchL"},"mark":{"type":"rule","stroke":"#bdb9b1","strokeWidth":0.8},"encoding":{"x":{"field":"t","type":"quantitative"},"x2":{"field":"t2"},"y":{"field":"f","type":"quantitative","scale":{"domain":[-0.05,1],"nice":false,"zero":false},"axis":null},"y2":{"field":"f2"}}},
{"data":{"name":"brkL"},"mark":{"type":"rule","stroke":"#808080","strokeWidth":1},"encoding":{"x":{"field":"t","type":"quantitative"},"x2":{"field":"t2"},"y":{"field":"f","type":"quantitative","scale":{"domain":[-0.05,1],"nice":false,"zero":false},"axis":null},"y2":{"field":"f2"}}},
{"data":{"name":"AS4"},"transform":[{"filter":"datum.t<=8"}],"mark":{"type":"line","color":"#ff0000","strokeWidth":0.6},"encoding":{"x":{"field":"t","type":"quantitative","scale":{"domain":[-1,8],"nice":false,"zero":false},"axis":{"values":[0,1,2,3,4,5,6,7,8],"tickCount":20,"format":"d","labelExpr":"datum.value % 2 == 0 ? datum.label : ''","labelOverlap":false,"title":"Time (hr)","titleX":88,"titlePadding":5}},"y":{"field":"v","type":"quantitative","scale":{"domain":[-100,2000],"nice":false,"zero":false},"axis":{"values":[0,250,500,750,1000,1250,1500,1750,2000],"tickCount":20,"labelOverlap":false,"format":"d","title":"AS (µg/liter)"}},"detail":{"field":"s","type":"nominal"},"strokeDash":{"condition":[{"test":"datum.s==2","value":[6,3]},{"test":"datum.s==3","value":[1,2]},{"test":"datum.s==6","value":[8,4]}],"value":[1,0]}}}
],"resolve":{"scale":{"y":"independent"}}},
{"width":52.5,"height":162,
"layer":[
{"data":{"name":"rectR"},"mark":{"type":"rect","fill":null,"stroke":"#b3ada3","strokeWidth":1},"encoding":{"x":{"field":"t","type":"quantitative","scale":{"domain":[144,150],"nice":false,"zero":false}},"x2":{"field":"t2"},"y":{"field":"f","type":"quantitative","scale":{"domain":[-0.05,1],"nice":false,"zero":false},"axis":null},"y2":{"field":"f2"}}},
{"data":{"name":"hatchR"},"mark":{"type":"rule","stroke":"#bdb9b1","strokeWidth":0.8},"encoding":{"x":{"field":"t","type":"quantitative"},"x2":{"field":"t2"},"y":{"field":"f","type":"quantitative","scale":{"domain":[-0.05,1],"nice":false,"zero":false},"axis":null},"y2":{"field":"f2"}}},
{"data":{"name":"brkR"},"mark":{"type":"rule","stroke":"#808080","strokeWidth":1},"encoding":{"x":{"field":"t","type":"quantitative"},"x2":{"field":"t2"},"y":{"field":"f","type":"quantitative","scale":{"domain":[-0.05,1],"nice":false,"zero":false},"axis":null},"y2":{"field":"f2"}}},
{"data":{"name":"AS4"},"transform":[{"filter":"datum.t>=144"}],"mark":{"type":"line","color":"#ff0000","strokeWidth":0.6},"encoding":{"x":{"field":"t","type":"quantitative","scale":{"domain":[144,150],"nice":false,"zero":false},"axis":{"values":[144,145,146,147,148,149,150],"tickCount":20,"format":"d","labelExpr":"datum.value % 2 == 0 ? datum.label : ''","labelOverlap":false,"title":null}},"y":{"field":"v","type":"quantitative","scale":{"domain":[-100,2000],"nice":false,"zero":false},"axis":null},"detail":{"field":"s","type":"nominal"},"strokeDash":{"condition":[{"test":"datum.s==2","value":[6,3]},{"test":"datum.s==3","value":[1,2]},{"test":"datum.s==6","value":[8,4]}],"value":[1,0]}}}
],"resolve":{"scale":{"y":"independent"}}},
{"width":32,"height":162,"data":{"name":"sp"},"mark":{"type":"point","opacity":0},"encoding":{}},
{"width":86.4,"height":162,"title":{"text":"AS Dose 6 mg/kg","anchor":"start","frame":"group","dx":40,"offset":10},
"layer":[
{"data":{"name":"rectL"},"mark":{"type":"rect","fill":null,"stroke":"#b3ada3","strokeWidth":1},"encoding":{"x":{"field":"t","type":"quantitative","scale":{"domain":[-1,8],"nice":false,"zero":false}},"x2":{"field":"t2"},"y":{"field":"f","type":"quantitative","scale":{"domain":[-0.05,1],"nice":false,"zero":false},"axis":null},"y2":{"field":"f2"}}},
{"data":{"name":"hatchL"},"mark":{"type":"rule","stroke":"#bdb9b1","strokeWidth":0.8},"encoding":{"x":{"field":"t","type":"quantitative"},"x2":{"field":"t2"},"y":{"field":"f","type":"quantitative","scale":{"domain":[-0.05,1],"nice":false,"zero":false},"axis":null},"y2":{"field":"f2"}}},
{"data":{"name":"brkL"},"mark":{"type":"rule","stroke":"#808080","strokeWidth":1},"encoding":{"x":{"field":"t","type":"quantitative"},"x2":{"field":"t2"},"y":{"field":"f","type":"quantitative","scale":{"domain":[-0.05,1],"nice":false,"zero":false},"axis":null},"y2":{"field":"f2"}}},
{"data":{"name":"AS6"},"transform":[{"filter":"datum.t<=8"}],"mark":{"type":"line","color":"#ff0000","strokeWidth":0.6},"encoding":{"x":{"field":"t","type":"quantitative","scale":{"domain":[-1,8],"nice":false,"zero":false},"axis":{"values":[0,1,2,3,4,5,6,7,8],"tickCount":20,"format":"d","labelExpr":"datum.value % 2 == 0 ? datum.label : ''","labelOverlap":false,"title":"Time (hr)","titleX":88,"titlePadding":5}},"y":{"field":"v","type":"quantitative","scale":{"domain":[-100,2000],"nice":false,"zero":false},"axis":{"values":[0,250,500,750,1000,1250,1500,1750,2000],"tickCount":20,"labelOverlap":false,"format":"d","title":"AS (µg/liter)"}},"detail":{"field":"s","type":"nominal"},"strokeDash":{"condition":[{"test":"datum.s==2","value":[6,2,1,2]},{"test":"datum.s==3","value":[1,2]}],"value":[1,0]}}}
],"resolve":{"scale":{"y":"independent"}}},
{"width":52.5,"height":162,
"layer":[
{"data":{"name":"rectR"},"mark":{"type":"rect","fill":null,"stroke":"#b3ada3","strokeWidth":1},"encoding":{"x":{"field":"t","type":"quantitative","scale":{"domain":[144,150],"nice":false,"zero":false}},"x2":{"field":"t2"},"y":{"field":"f","type":"quantitative","scale":{"domain":[-0.05,1],"nice":false,"zero":false},"axis":null},"y2":{"field":"f2"}}},
{"data":{"name":"hatchR"},"mark":{"type":"rule","stroke":"#bdb9b1","strokeWidth":0.8},"encoding":{"x":{"field":"t","type":"quantitative"},"x2":{"field":"t2"},"y":{"field":"f","type":"quantitative","scale":{"domain":[-0.05,1],"nice":false,"zero":false},"axis":null},"y2":{"field":"f2"}}},
{"data":{"name":"brkR"},"mark":{"type":"rule","stroke":"#808080","strokeWidth":1},"encoding":{"x":{"field":"t","type":"quantitative"},"x2":{"field":"t2"},"y":{"field":"f","type":"quantitative","scale":{"domain":[-0.05,1],"nice":false,"zero":false},"axis":null},"y2":{"field":"f2"}}},
{"data":{"name":"AS6"},"transform":[{"filter":"datum.t>=144"}],"mark":{"type":"line","color":"#ff0000","strokeWidth":0.6},"encoding":{"x":{"field":"t","type":"quantitative","scale":{"domain":[144,150],"nice":false,"zero":false},"axis":{"values":[144,145,146,147,148,149,150],"tickCount":20,"format":"d","labelExpr":"datum.value % 2 == 0 ? datum.label : ''","labelOverlap":false,"title":null}},"y":{"field":"v","type":"quantitative","scale":{"domain":[-100,2000],"nice":false,"zero":false},"axis":null},"detail":{"field":"s","type":"nominal"},"strokeDash":{"condition":[{"test":"datum.s==2","value":[6,2,1,2]},{"test":"datum.s==3","value":[1,2]}],"value":[1,0]}}}
],"resolve":{"scale":{"y":"independent"}}},
{"width":86.4,"height":162,
"layer":[
{"data":{"name":"rectL"},"mark":{"type":"rect","fill":null,"stroke":"#b3ada3","strokeWidth":1},"encoding":{"x":{"field":"t","type":"quantitative","scale":{"domain":[-1,8],"nice":false,"zero":false}},"x2":{"field":"t2"},"y":{"field":"f","type":"quantitative","scale":{"domain":[-0.05,1],"nice":false,"zero":false},"axis":null},"y2":{"field":"f2"}}},
{"data":{"name":"hatchL"},"mark":{"type":"rule","stroke":"#bdb9b1","strokeWidth":0.8},"encoding":{"x":{"field":"t","type":"quantitative"},"x2":{"field":"t2"},"y":{"field":"f","type":"quantitative","scale":{"domain":[-0.05,1],"nice":false,"zero":false},"axis":null},"y2":{"field":"f2"}}},
{"data":{"name":"brkL"},"mark":{"type":"rule","stroke":"#808080","strokeWidth":1},"encoding":{"x":{"field":"t","type":"quantitative"},"x2":{"field":"t2"},"y":{"field":"f","type":"quantitative","scale":{"domain":[-0.05,1],"nice":false,"zero":false},"axis":null},"y2":{"field":"f2"}}},
{"data":{"name":"DHA2"},"transform":[{"filter":"datum.t<=8"}],"mark":{"type":"line","color":"#0000ff","strokeWidth":0.6},"encoding":{"x":{"field":"t","type":"quantitative","scale":{"domain":[-1,8],"nice":false,"zero":false},"axis":{"values":[0,1,2,3,4,5,6,7,8],"tickCount":20,"format":"d","labelExpr":"datum.value % 2 == 0 ? datum.label : ''","labelOverlap":false,"title":"Time (hr)","titleX":88,"titlePadding":5}},"y":{"field":"v","type":"quantitative","scale":{"domain":[-350,7000],"nice":false,"zero":false},"axis":{"values":[0,1000,2000,3000,4000,5000,6000,7000],"tickCount":20,"labelOverlap":false,"format":"d","title":"DHA (µg/liter)"}},"detail":{"field":"s","type":"nominal"}}}
],"resolve":{"scale":{"y":"independent"}}},
{"width":52.5,"height":162,
"layer":[
{"data":{"name":"rectR"},"mark":{"type":"rect","fill":null,"stroke":"#b3ada3","strokeWidth":1},"encoding":{"x":{"field":"t","type":"quantitative","scale":{"domain":[144,150],"nice":false,"zero":false}},"x2":{"field":"t2"},"y":{"field":"f","type":"quantitative","scale":{"domain":[-0.05,1],"nice":false,"zero":false},"axis":null},"y2":{"field":"f2"}}},
{"data":{"name":"hatchR"},"mark":{"type":"rule","stroke":"#bdb9b1","strokeWidth":0.8},"encoding":{"x":{"field":"t","type":"quantitative"},"x2":{"field":"t2"},"y":{"field":"f","type":"quantitative","scale":{"domain":[-0.05,1],"nice":false,"zero":false},"axis":null},"y2":{"field":"f2"}}},
{"data":{"name":"brkR"},"mark":{"type":"rule","stroke":"#808080","strokeWidth":1},"encoding":{"x":{"field":"t","type":"quantitative"},"x2":{"field":"t2"},"y":{"field":"f","type":"quantitative","scale":{"domain":[-0.05,1],"nice":false,"zero":false},"axis":null},"y2":{"field":"f2"}}},
{"data":{"name":"DHA2"},"transform":[{"filter":"datum.t>=144"}],"mark":{"type":"line","color":"#0000ff","strokeWidth":0.6},"encoding":{"x":{"field":"t","type":"quantitative","scale":{"domain":[144,150],"nice":false,"zero":false},"axis":{"values":[144,145,146,147,148,149,150],"tickCount":20,"format":"d","labelExpr":"datum.value % 2 == 0 ? datum.label : ''","labelOverlap":false,"title":null}},"y":{"field":"v","type":"quantitative","scale":{"domain":[-350,7000],"nice":false,"zero":false},"axis":null},"detail":{"field":"s","type":"nominal"}}}
],"resolve":{"scale":{"y":"independent"}}},
{"width":32,"height":162,"data":{"name":"sp"},"mark":{"type":"point","opacity":0},"encoding":{}},
{"width":86.4,"height":162,
"layer":[
{"data":{"name":"rectL"},"mark":{"type":"rect","fill":null,"stroke":"#b3ada3","strokeWidth":1},"encoding":{"x":{"field":"t","type":"quantitative","scale":{"domain":[-1,8],"nice":false,"zero":false}},"x2":{"field":"t2"},"y":{"field":"f","type":"quantitative","scale":{"domain":[-0.05,1],"nice":false,"zero":false},"axis":null},"y2":{"field":"f2"}}},
{"data":{"name":"hatchL"},"mark":{"type":"rule","stroke":"#bdb9b1","strokeWidth":0.8},"encoding":{"x":{"field":"t","type":"quantitative"},"x2":{"field":"t2"},"y":{"field":"f","type":"quantitative","scale":{"domain":[-0.05,1],"nice":false,"zero":false},"axis":null},"y2":{"field":"f2"}}},
{"data":{"name":"brkL"},"mark":{"type":"rule","stroke":"#808080","strokeWidth":1},"encoding":{"x":{"field":"t","type":"quantitative"},"x2":{"field":"t2"},"y":{"field":"f","type":"quantitative","scale":{"domain":[-0.05,1],"nice":false,"zero":false},"axis":null},"y2":{"field":"f2"}}},
{"data":{"name":"DHA4"},"transform":[{"filter":"datum.t<=8"}],"mark":{"type":"line","color":"#0000ff","strokeWidth":0.6},"encoding":{"x":{"field":"t","type":"quantitative","scale":{"domain":[-1,8],"nice":false,"zero":false},"axis":{"values":[0,1,2,3,4,5,6,7,8],"tickCount":20,"format":"d","labelExpr":"datum.value % 2 == 0 ? datum.label : ''","labelOverlap":false,"title":"Time (hr)","titleX":88,"titlePadding":5}},"y":{"field":"v","type":"quantitative","scale":{"domain":[-350,7000],"nice":false,"zero":false},"axis":{"values":[0,1000,2000,3000,4000,5000,6000,7000],"tickCount":20,"labelOverlap":false,"format":"d","title":"DHA (µg/liter)"}},"detail":{"field":"s","type":"nominal"}}}
],"resolve":{"scale":{"y":"independent"}}},
{"width":52.5,"height":162,
"layer":[
{"data":{"name":"rectR"},"mark":{"type":"rect","fill":null,"stroke":"#b3ada3","strokeWidth":1},"encoding":{"x":{"field":"t","type":"quantitative","scale":{"domain":[144,150],"nice":false,"zero":false}},"x2":{"field":"t2"},"y":{"field":"f","type":"quantitative","scale":{"domain":[-0.05,1],"nice":false,"zero":false},"axis":null},"y2":{"field":"f2"}}},
{"data":{"name":"hatchR"},"mark":{"type":"rule","stroke":"#bdb9b1","strokeWidth":0.8},"encoding":{"x":{"field":"t","type":"quantitative"},"x2":{"field":"t2"},"y":{"field":"f","type":"quantitative","scale":{"domain":[-0.05,1],"nice":false,"zero":false},"axis":null},"y2":{"field":"f2"}}},
{"data":{"name":"brkR"},"mark":{"type":"rule","stroke":"#808080","strokeWidth":1},"encoding":{"x":{"field":"t","type":"quantitative"},"x2":{"field":"t2"},"y":{"field":"f","type":"quantitative","scale":{"domain":[-0.05,1],"nice":false,"zero":false},"axis":null},"y2":{"field":"f2"}}},
{"data":{"name":"DHA4"},"transform":[{"filter":"datum.t>=144"}],"mark":{"type":"line","color":"#0000ff","strokeWidth":0.6},"encoding":{"x":{"field":"t","type":"quantitative","scale":{"domain":[144,150],"nice":false,"zero":false},"axis":{"values":[144,145,146,147,148,149,150],"tickCount":20,"format":"d","labelExpr":"datum.value % 2 == 0 ? datum.label : ''","labelOverlap":false,"title":null}},"y":{"field":"v","type":"quantitative","scale":{"domain":[-350,7000],"nice":false,"zero":false},"axis":null},"detail":{"field":"s","type":"nominal"}}}
],"resolve":{"scale":{"y":"independent"}}},
{"width":32,"height":162,"data":{"name":"sp"},"mark":{"type":"point","opacity":0},"encoding":{}},
{"width":86.4,"height":162,
"layer":[
{"data":{"name":"rectL"},"mark":{"type":"rect","fill":null,"stroke":"#b3ada3","strokeWidth":1},"encoding":{"x":{"field":"t","type":"quantitative","scale":{"domain":[-1,8],"nice":false,"zero":false}},"x2":{"field":"t2"},"y":{"field":"f","type":"quantitative","scale":{"domain":[-0.05,1],"nice":false,"zero":false},"axis":null},"y2":{"field":"f2"}}},
{"data":{"name":"hatchL"},"mark":{"type":"rule","stroke":"#bdb9b1","strokeWidth":0.8},"encoding":{"x":{"field":"t","type":"quantitative"},"x2":{"field":"t2"},"y":{"field":"f","type":"quantitative","scale":{"domain":[-0.05,1],"nice":false,"zero":false},"axis":null},"y2":{"field":"f2"}}},
{"data":{"name":"brkL"},"mark":{"type":"rule","stroke":"#808080","strokeWidth":1},"encoding":{"x":{"field":"t","type":"quantitative"},"x2":{"field":"t2"},"y":{"field":"f","type":"quantitative","scale":{"domain":[-0.05,1],"nice":false,"zero":false},"axis":null},"y2":{"field":"f2"}}},
{"data":{"name":"DHA6"},"transform":[{"filter":"datum.t<=8"}],"mark":{"type":"line","color":"#0000ff","strokeWidth":0.6},"encoding":{"x":{"field":"t","type":"quantitative","scale":{"domain":[-1,8],"nice":false,"zero":false},"axis":{"values":[0,1,2,3,4,5,6,7,8],"tickCount":20,"format":"d","labelExpr":"datum.value % 2 == 0 ? datum.label : ''","labelOverlap":false,"title":"Time (hr)","titleX":88,"titlePadding":5}},"y":{"field":"v","type":"quantitative","scale":{"domain":[-350,7000],"nice":false,"zero":false},"axis":{"values":[0,1000,2000,3000,4000,5000,6000,7000],"tickCount":20,"labelOverlap":false,"format":"d","title":"DHA (µg/liter)"}},"detail":{"field":"s","type":"nominal"},"strokeDash":{"condition":[{"test":"datum.s==1","value":[1,2]},{"test":"datum.s==2","value":[6,3]},{"test":"datum.s==7","value":[8,3]}],"value":[1,0]}}}
],"resolve":{"scale":{"y":"independent"}}},
{"width":52.5,"height":162,
"layer":[
{"data":{"name":"rectR"},"mark":{"type":"rect","fill":null,"stroke":"#b3ada3","strokeWidth":1},"encoding":{"x":{"field":"t","type":"quantitative","scale":{"domain":[144,150],"nice":false,"zero":false}},"x2":{"field":"t2"},"y":{"field":"f","type":"quantitative","scale":{"domain":[-0.05,1],"nice":false,"zero":false},"axis":null},"y2":{"field":"f2"}}},
{"data":{"name":"hatchR"},"mark":{"type":"rule","stroke":"#bdb9b1","strokeWidth":0.8},"encoding":{"x":{"field":"t","type":"quantitative"},"x2":{"field":"t2"},"y":{"field":"f","type":"quantitative","scale":{"domain":[-0.05,1],"nice":false,"zero":false},"axis":null},"y2":{"field":"f2"}}},
{"data":{"name":"brkR"},"mark":{"type":"rule","stroke":"#808080","strokeWidth":1},"encoding":{"x":{"field":"t","type":"quantitative"},"x2":{"field":"t2"},"y":{"field":"f","type":"quantitative","scale":{"domain":[-0.05,1],"nice":false,"zero":false},"axis":null},"y2":{"field":"f2"}}},
{"data":{"name":"DHA6"},"transform":[{"filter":"datum.t>=144"}],"mark":{"type":"line","color":"#0000ff","strokeWidth":0.6},"encoding":{"x":{"field":"t","type":"quantitative","scale":{"domain":[144,150],"nice":false,"zero":false},"axis":{"values":[144,145,146,147,148,149,150],"tickCount":20,"format":"d","labelExpr":"datum.value % 2 == 0 ? datum.label : ''","labelOverlap":false,"title":null}},"y":{"field":"v","type":"quantitative","scale":{"domain":[-350,7000],"nice":false,"zero":false},"axis":null},"detail":{"field":"s","type":"nominal"},"strokeDash":{"condition":[{"test":"datum.s==1","value":[1,2]},{"test":"datum.s==2","value":[6,3]},{"test":"datum.s==7","value":[8,3]}],"value":[1,0]}}}
],"resolve":{"scale":{"y":"independent"}}}
]
}
